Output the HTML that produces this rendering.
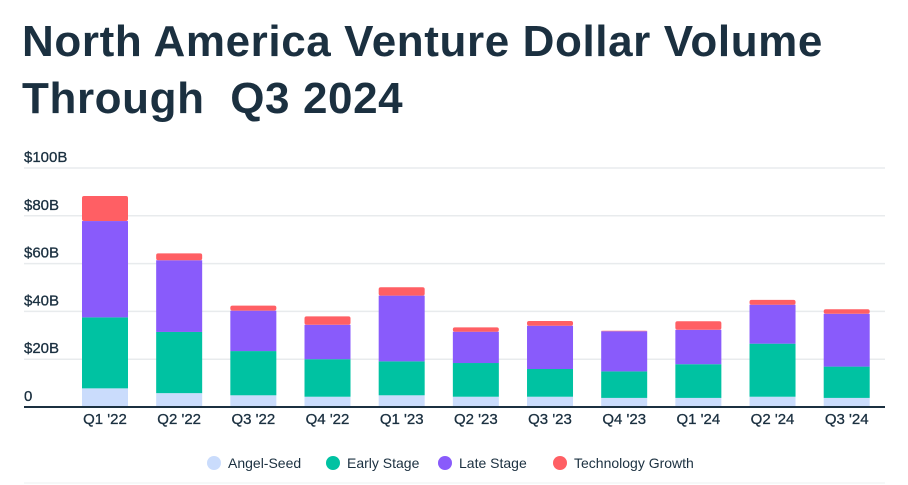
<!DOCTYPE html>
<html><head><meta charset="utf-8"><style>
body{margin:0;background:#fff;width:908px;height:485px;overflow:hidden;font-family:"Liberation Sans",sans-serif}
h1{position:absolute;left:22px;top:13px;margin:0;font-size:44px;line-height:57px;font-weight:bold;color:#1b3040;letter-spacing:0.6px}
svg{position:absolute;left:0;top:0}
</style></head><body>
<h1>North America Venture Dollar Volume<br>Through&nbsp; Q3 2024</h1>
<svg id="c" width="908" height="485"></svg>
<script>
const categories=["Q1 '22","Q2 '22","Q3 '22","Q4 '22","Q1 '23","Q2 '23","Q3 '23","Q4 '23","Q1 '24","Q2 '24","Q3 '24"];
const angelSeed=[7.8,5.8,4.9,4.3,4.9,4.3,4.3,3.8,3.8,4.3,3.8];
const earlyStage=[29.7,25.6,18.5,15.7,14.2,14.1,11.6,11.1,14.1,22.2,13.1];
const lateStage=[40.3,30.0,16.9,14.4,27.5,13.1,18.1,16.8,14.4,16.3,22.1];
const techGrowth=[10.5,2.9,2.1,3.5,3.5,1.8,2.0,0.2,3.6,2.0,1.9];
const yTicks=[0,20,40,60,80,100];
const yTickLabels=["0","$20B","$40B","$60B","$80B","$100B"];
const seriesNames=["Angel-Seed","Early Stage","Late Stage","Technology Growth"];
const NS="http://www.w3.org/2000/svg",svg=document.getElementById('c');
const colors=["#cadcfc","#00c2a2","#895bfb","#ff5f64"];
const y=v=>407-v*2.39;
const x=i=>105+i*74.17;
function mk(t,a,p){const e=document.createElementNS(NS,t);for(const k in a)e.setAttribute(k,a[k]);(p||svg).appendChild(e);return e;}
yTicks.forEach((t,i)=>{
 if(t>0){const l=mk('line',{x1:24,x2:885,y1:y(t),y2:y(t),stroke:'#e8ebed','stroke-width':1.5});
 
 }
 const tx=mk('text',{x:24,y:y(t)-6,'font-size':15,fill:'#1b3040','font-family':'Liberation Sans, sans-serif','stroke':'#1b3040','stroke-width':0.3});
 tx.textContent=yTickLabels[i];
 
 
});
const series=[angelSeed,earlyStage,lateStage,techGrowth];
categories.forEach((c,i)=>{
 let base=0;
 series.forEach((s,j)=>{
  const top=base+s[i];
  const r=mk('rect',{x:x(i)-23,width:46,y:y(top),height:Math.max(0,y(base)-y(top)),fill:colors[j],rx:j==3?2:0});
  
  
  base=top;
 });
 const t=mk('text',{x:x(i),y:424,'font-size':15,fill:'#1b3040','text-anchor':'middle','font-family':'Liberation Sans, sans-serif','stroke':'#1b3040','stroke-width':0.3});
 t.textContent=c;
 
 
});
const ax=mk('line',{x1:24,x2:885,y1:407,y2:407,stroke:'#1b3040','stroke-width':2});


const lx=[214,333,445,560];
seriesNames.forEach((n,j)=>{
 const g=mk('g',{});
 
 
 mk('circle',{cx:lx[j],cy:463,r:7,fill:colors[j]},g);
 const t=mk('text',{x:lx[j]+14,y:468,'font-size':14,fill:'#1b3040','font-family':'Liberation Sans, sans-serif'},g);
 t.textContent=n;
});
const bl=mk('line',{x1:24,x2:885,y1:483,y2:483,stroke:'#eef0f2','stroke-width':1});


</script>
</body></html>
